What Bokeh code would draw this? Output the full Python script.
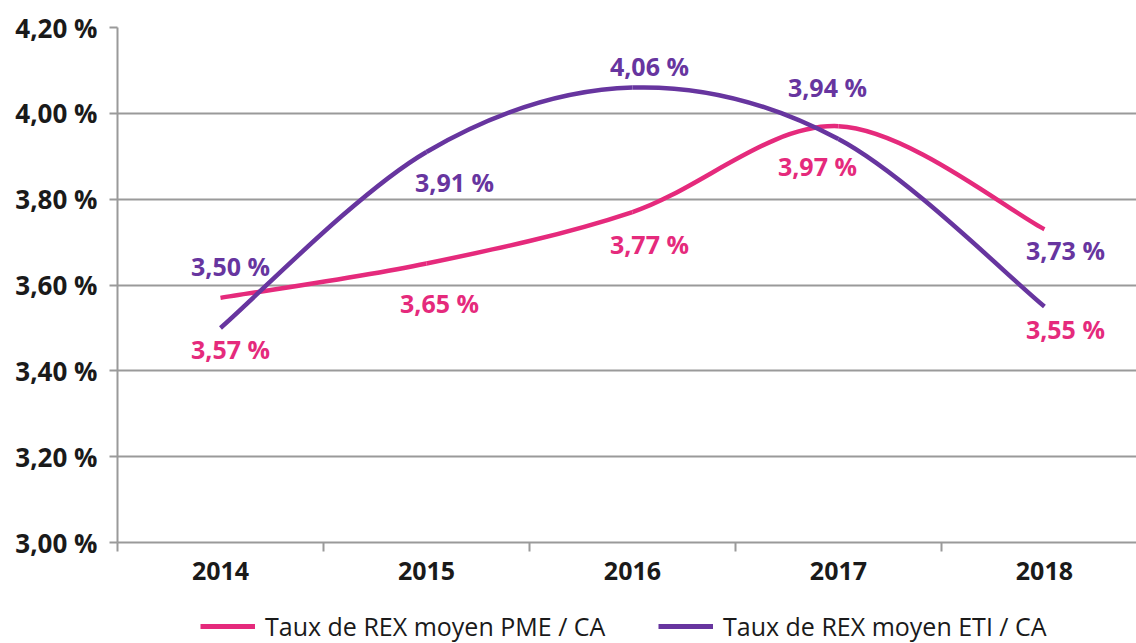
from bokeh.plotting import figure
from bokeh.layouts import column
from bokeh.models import (Range1d, FixedTicker, Legend, LegendItem, ColumnDataSource,
                          LabelSet, CustomJSTickFormatter)
from bokeh.core.properties import value
from bokeh.embed import file_html
from bokeh.resources import INLINE

# ---------------- data ----------------
years = ["2014", "2015", "2016", "2017", "2018"]
pme_values = [3.57, 3.65, 3.77, 3.97, 3.73]
eti_values = [3.50, 3.91, 4.06, 3.94, 3.55]
# data labels as printed on the original chart (2018 labels are swapped there)
pme_label_values = [3.57, 3.65, 3.77, 3.97, 3.55]
eti_label_values = [3.50, 3.91, 4.06, 3.94, 3.73]
y_ticks = [3.00, 3.20, 3.40, 3.60, 3.80, 4.00, 4.20]
pme_name = "Taux de REX moyen PME / CA"
eti_name = "Taux de REX moyen ETI / CA"

# ---------------- styles ----------------
PINK = "#E52A7C"
PURPLE = "#67359F"
GRID = "#9a9a9a"
FONT = "Open Sans"
pme_label_dx = [10, 13, 17, -21, 21]
pme_label_dy = [-51, -39, -32, -40, -23]
eti_label_dx = [10, 28, 17, -11, 21]
eti_label_dy = [62, -30, 22, 52, -21]


def fmt(v):
    return f"{v:.2f}".replace(".", ",") + " %"


def smooth_segments(ys):
    """Catmull-Rom -> cubic Bezier segments through the data points."""
    xs = list(range(len(ys)))
    pts = list(zip(xs, ys))
    n = len(pts)
    d = dict(x0=[], y0=[], x1=[], y1=[], cx0=[], cy0=[], cx1=[], cy1=[])
    for i in range(n - 1):
        p0 = pts[i - 1] if i > 0 else pts[i]
        p1 = pts[i]
        p2 = pts[i + 1]
        p3 = pts[i + 2] if i + 2 < n else pts[i + 1]
        d["x0"].append(p1[0]); d["y0"].append(p1[1])
        d["x1"].append(p2[0]); d["y1"].append(p2[1])
        d["cx0"].append(p1[0] + (p2[0] - p0[0]) / 6)
        d["cy0"].append(p1[1] + (p2[1] - p0[1]) / 6)
        d["cx1"].append(p2[0] - (p3[0] - p1[0]) / 6)
        d["cy1"].append(p2[1] - (p3[1] - p1[1]) / 6)
    return ColumnDataSource(d)


p = figure(width=1136, height=590, output_backend="svg", toolbar_location=None,
           x_range=Range1d(-0.5, 4.447), y_range=Range1d(3.0, 4.2),
           min_border_left=117, min_border_right=0, min_border_top=27,
           min_border_bottom=48)
p.outline_line_color = None
p.background_fill_color = "white"
p.border_fill_color = "white"

# axes
p.yaxis.ticker = FixedTicker(ticks=y_ticks)
p.yaxis.formatter = CustomJSTickFormatter(
    code="return tick.toFixed(2).replace('.', ',') + ' %';")
p.yaxis.axis_line_color = GRID
p.yaxis.axis_line_width = 2
p.yaxis.major_tick_line_color = GRID
p.yaxis.major_tick_line_width = 2
p.yaxis.major_tick_out = 8
p.yaxis.major_tick_in = 0
p.yaxis.minor_tick_line_color = None
p.yaxis.major_label_standoff = 12
p.yaxis.major_label_text_font = FONT
p.yaxis.major_label_text_font_style = "bold"
p.yaxis.major_label_text_font_size = "26px"
p.yaxis.major_label_text_color = "#1a1a1a"

p.xaxis.ticker = FixedTicker(ticks=list(range(len(years))),
                             minor_ticks=[i - 0.5 for i in range(len(years) + 1)])
p.xaxis.formatter = CustomJSTickFormatter(args=dict(years=years),
                                          code="return years[Math.round(tick)];")
p.xaxis.axis_line_color = GRID
p.xaxis.axis_line_width = 2
p.xaxis.major_tick_line_color = None
p.xaxis.minor_tick_line_color = GRID
p.xaxis.minor_tick_line_width = 2
p.xaxis.minor_tick_out = 9
p.xaxis.minor_tick_in = 0
p.xaxis.major_label_standoff = 10
p.xaxis.major_label_text_font = FONT
p.xaxis.major_label_text_font_style = "bold"
p.xaxis.major_label_text_font_size = "25px"
p.xaxis.major_label_text_color = "#1a1a1a"

p.xgrid.grid_line_color = None
p.ygrid.ticker = FixedTicker(ticks=y_ticks)
p.ygrid.grid_line_color = GRID
p.ygrid.grid_line_width = 2

# smoothed lines
p.bezier(x0="x0", y0="y0", x1="x1", y1="y1", cx0="cx0", cy0="cy0", cx1="cx1", cy1="cy1",
         source=smooth_segments(pme_values), line_color=PINK, line_width=4.5)
p.bezier(x0="x0", y0="y0", x1="x1", y1="y1", cx0="cx0", cy0="cy0", cx1="cx1", cy1="cy1",
         source=smooth_segments(eti_values), line_color=PURPLE, line_width=4.5)

# data labels
for vals, dx, dy, col in ((pme_label_values, pme_label_dx, pme_label_dy, PINK),
                          (eti_label_values, eti_label_dx, eti_label_dy, PURPLE)):
    src = ColumnDataSource(dict(x=list(range(len(vals))), y=vals,
                                t=[fmt(v) for v in vals], dx=dx, dy=dy))
    p.add_layout(LabelSet(x="x", y="y", text="t", source=src, x_offset="dx", y_offset="dy",
                          text_align="center", text_baseline="middle",
                          text_font=value(FONT), text_font_style="bold",
                          text_font_size="25px", text_color=col))

# legend strip below the chart (its series lines lie outside its visible range)
lp = figure(width=1136, height=53, output_backend="svg", toolbar_location=None,
            x_range=Range1d(0, 1), y_range=Range1d(0, 1),
            min_border_left=117, min_border_right=0, min_border_top=0, min_border_bottom=0)
lp.axis.visible = False
lp.grid.grid_line_color = None
lp.outline_line_color = None
r_pme = lp.line(x=list(range(len(years))), y=pme_values, line_color=PINK, line_width=5)
r_eti = lp.line(x=list(range(len(years))), y=eti_values, line_color=PURPLE, line_width=5)
for name, r, xloc in ((pme_name, r_pme, 83), (eti_name, r_eti, 541)):
    lg = Legend(items=[LegendItem(label=name, renderers=[r])], location=(xloc, 0),
                orientation="horizontal", glyph_width=55, glyph_height=26,
                label_height=26, label_standoff=10, padding=0, margin=0, spacing=0,
                border_line_color=None, background_fill_alpha=0,
                label_text_font=FONT, label_text_font_size="25px",
                label_text_color="#1a1a1a", label_text_baseline="middle")
    lp.add_layout(lg, "center")

layout = column(p, lp, spacing=0)
open("out.html", "w").write(file_html(layout, INLINE))
